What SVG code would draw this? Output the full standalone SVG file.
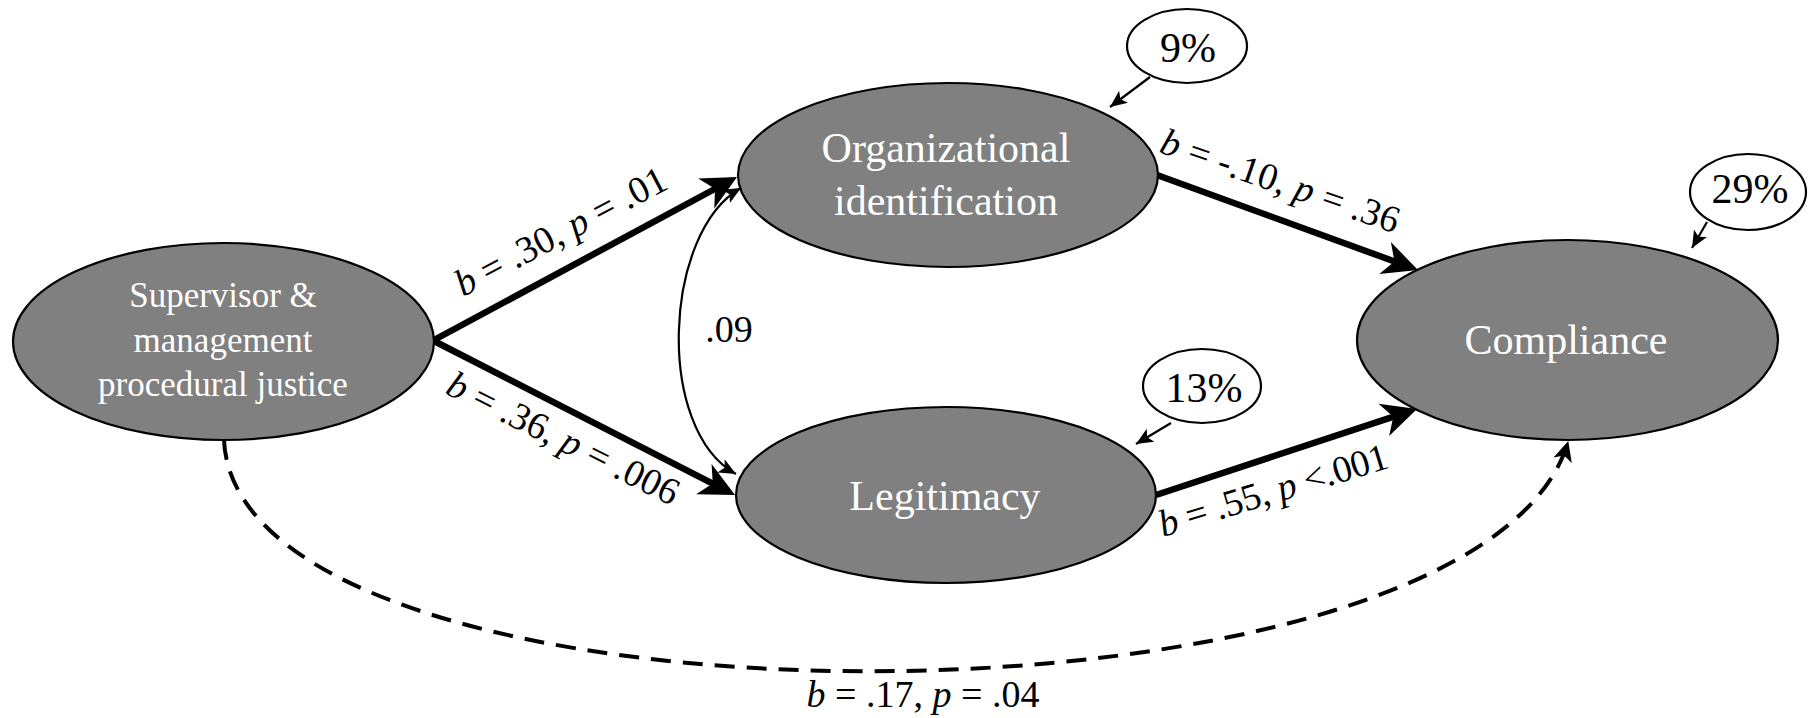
<svg xmlns="http://www.w3.org/2000/svg" width="1809" height="718" viewBox="0 0 1809 718">
  <style>
    text { font-family: "Liberation Serif", "Times New Roman", serif; }
    .node { fill: #808080; stroke: #000; stroke-width: 2.2; }
    .small { fill: #fff; stroke: #000; stroke-width: 2.2; }
    .ntext { fill: #fff; font-size: 42px; text-anchor: middle; }
    .stext { fill: #fff; font-size: 35px; text-anchor: middle; }
    .ptext { fill: #000; font-size: 42px; text-anchor: middle; }
    .lbl { fill: #000; font-size: 38px; }
    .it { font-style: italic; }
    .thick { fill: none; stroke: #000; stroke-width: 6.5; marker-end: url(#ahBig); }
    .thin { fill: none; stroke: #000; stroke-width: 2.2; }
    .dash { fill: none; stroke: #000; stroke-width: 4; stroke-dasharray: 20 12; marker-end: url(#ahMid); }
  </style>
  <defs>
    <marker id="ahBig" markerUnits="userSpaceOnUse" viewBox="0 -18 36 36" refX="16" refY="0" markerWidth="36" markerHeight="36" orient="auto">
      <path d="M0,-17 L35,0 L0,17 L10,0 Z" fill="#000"/>
    </marker>
    <marker id="ahSmall" markerUnits="userSpaceOnUse" viewBox="0 -8 18 16" refX="17" refY="0" markerWidth="18" markerHeight="16" orient="auto-start-reverse">
      <path d="M0,-7.5 L17,0 L0,7.5 L4,0 Z" fill="#000"/>
    </marker>
    <marker id="ahMid" markerUnits="userSpaceOnUse" viewBox="0 -10 21 20" refX="19" refY="0" markerWidth="21" markerHeight="20" orient="auto">
      <path d="M0,-9.5 L20,0 L0,9.5 L5,0 Z" fill="#000"/>
    </marker>
  </defs>

  <g id="connectors">
    <line class="thick" x1="434" y1="340" x2="720.3" y2="186"/>
    <line class="thick" x1="434" y1="341" x2="718.1" y2="486.3"/>
    <line class="thick" x1="1157" y1="175" x2="1400.1" y2="263.5"/>
    <line class="thick" x1="1156" y1="495" x2="1399" y2="414.9"/>
    <path class="thin" d="M741,188 C663,232 655,430 736,474" marker-start="url(#ahSmall)" marker-end="url(#ahSmall)"/>
    <path class="dash" d="M224,440 C238,748 1478,748 1568,442"/>
    <line class="thin" x1="1150" y1="77" x2="1110" y2="107" marker-end="url(#ahSmall)"/>
    <line class="thin" x1="1171" y1="423" x2="1136" y2="444" marker-end="url(#ahSmall)"/>
    <line class="thin" x1="1707" y1="222" x2="1692" y2="248" marker-end="url(#ahSmall)"/>
  </g>

  <g id="labels">
    <text class="lbl" transform="translate(463,297) rotate(-27.8)" textLength="234" lengthAdjust="spacing"><tspan class="it">b</tspan> = .30, <tspan class="it">p</tspan> = .01</text>
    <text class="lbl" transform="translate(444,393) rotate(26.4)" textLength="254" lengthAdjust="spacing"><tspan class="it">b</tspan> = .36, <tspan class="it">p</tspan> = .006</text>
    <text class="lbl" transform="translate(1158,152) rotate(19)" textLength="250" lengthAdjust="spacing"><tspan class="it">b</tspan> = -.10, <tspan class="it">p</tspan> = .36</text>
    <text class="lbl" transform="translate(1163,537) rotate(-17)" textLength="238" lengthAdjust="spacing"><tspan class="it">b</tspan> = .55, <tspan class="it">p</tspan> &lt;.001</text>
    <text class="lbl" x="923" y="707" text-anchor="middle"><tspan class="it">b</tspan> = .17, <tspan class="it">p</tspan> = .04</text>
    <text class="lbl" x="729" y="342" text-anchor="middle">.09</text>
  </g>

  <g id="node-supervisor">
    <ellipse class="node" cx="223.5" cy="341.5" rx="210.5" ry="98.5"/>
    <text class="stext" x="223" y="307">Supervisor &amp;</text>
    <text class="stext" x="223" y="352">management</text>
    <text class="stext" x="223" y="396">procedural justice</text>
  </g>

  <g id="node-orgid">
    <ellipse class="node" cx="948" cy="175" rx="210" ry="92"/>
    <text class="ntext" x="946" y="162">Organizational</text>
    <text class="ntext" x="946" y="215">identification</text>
  </g>

  <g id="node-legitimacy">
    <ellipse class="node" cx="946" cy="495" rx="210" ry="88"/>
    <text class="ntext" x="945" y="510">Legitimacy</text>
  </g>

  <g id="node-compliance">
    <ellipse class="node" cx="1567.5" cy="340" rx="210.5" ry="100"/>
    <text class="ntext" x="1566" y="354">Compliance</text>
  </g>

  <g id="r2-orgid">
    <ellipse class="small" cx="1187" cy="46" rx="60" ry="37"/>
    <text class="ptext" x="1188" y="62">9%</text>
  </g>

  <g id="r2-legitimacy">
    <ellipse class="small" cx="1202" cy="386" rx="59" ry="37"/>
    <text class="ptext" x="1204" y="402">13%</text>
  </g>

  <g id="r2-compliance">
    <ellipse class="small" cx="1748" cy="192" rx="58" ry="38"/>
    <text class="ptext" x="1750" y="203">29%</text>
  </g>
</svg>
